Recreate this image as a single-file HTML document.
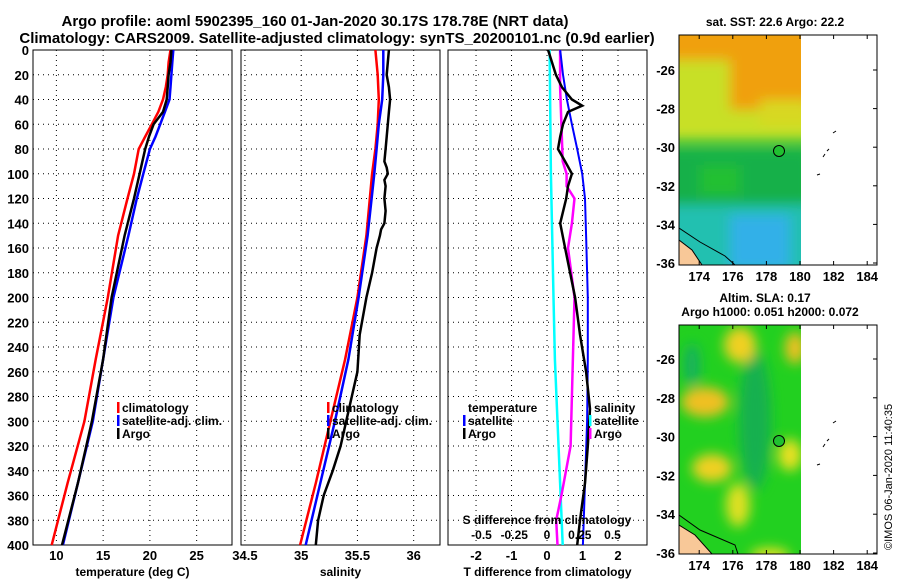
<!DOCTYPE html>
<html><head><meta charset="utf-8"><style>
body{margin:0;background:#fff;}
svg{display:block;font-family:"Liberation Sans",sans-serif;font-weight:bold;}
</style></head><body>
<svg id="chart" width="900" height="580" viewBox="0 0 900 580" xmlns="http://www.w3.org/2000/svg">
<defs>
<filter id="blur" x="-20%" y="-20%" width="140%" height="140%"><feGaussianBlur stdDeviation="6"/></filter>
<clipPath id="c1"><rect x="679" y="35" width="122" height="230"/></clipPath>
<clipPath id="c2"><rect x="679" y="325" width="122" height="229"/></clipPath>
</defs>
<text x="315" y="26" font-size="15" text-anchor="middle">Argo profile: aoml 5902395_160 01-Jan-2020 30.17S 178.78E (NRT data)</text>
<text x="337" y="43" font-size="15" text-anchor="middle">Climatology: CARS2009. Satellite-adjusted climatology: synTS_20200101.nc (0.9d earlier)</text>
<g id="plots"></g>
<g id="maps">
<text x="775" y="26" font-size="12" text-anchor="middle">sat. SST: 22.6 Argo: 22.2</text>
<g clip-path="url(#c1)">
<rect x="679" y="35" width="122" height="230" fill="#20c040"/>
<g filter="url(#blur)">
<rect x="660" y="50" width="160" height="90" fill="#c8e028"/>
<rect x="660" y="20" width="160" height="40" fill="#f0a010"/>
<rect x="730" y="20" width="90" height="90" fill="#f0a010"/>
<rect x="760" y="100" width="50" height="25" fill="#d8d820"/>
<rect x="660" y="150" width="150" height="60" fill="#18b048"/>
<rect x="700" y="165" width="40" height="30" fill="#22c030"/>
<rect x="660" y="205" width="160" height="70" fill="#20c0b0"/>
<rect x="730" y="215" width="60" height="55" fill="#30b0e8"/>
</g>
<path d="M679 240 L692 250 L702 265 L679 265Z" fill="#f8c898" stroke="#000" stroke-width="1"/>
<path d="M679 228 L700 242 L725 256 L735 265" fill="none" stroke="#000"/>
</g>
<rect x="679" y="35" width="198" height="230" fill="none" stroke="#000"/>
<circle cx="779" cy="151" r="5.5" fill="#20c030" stroke="#000"/>
<text x="765" y="302" font-size="12" text-anchor="middle">Altim. SLA: 0.17</text>
<text x="770" y="316" font-size="12" text-anchor="middle">Argo h1000: 0.051 h2000: 0.072</text>
<g clip-path="url(#c2)">
<rect x="679" y="325" width="122" height="229" fill="#22d020"/>
<g filter="url(#blur)">
<ellipse cx="755" cy="420" rx="16" ry="70" fill="#14b050"/>
<ellipse cx="692" cy="365" rx="8" ry="22" fill="#18b060"/>
<ellipse cx="740" cy="345" rx="16" ry="18" fill="#f0d020"/>
<ellipse cx="795" cy="348" rx="10" ry="16" fill="#f0c020"/>
<ellipse cx="705" cy="402" rx="24" ry="15" fill="#f0c020"/>
<ellipse cx="790" cy="455" rx="12" ry="16" fill="#e8e020"/>
<ellipse cx="712" cy="468" rx="20" ry="14" fill="#f0d020"/>
<ellipse cx="738" cy="505" rx="12" ry="22" fill="#e0e020"/>
<ellipse cx="770" cy="556" rx="20" ry="8" fill="#e8e020"/>
</g>
<path d="M679 525 L695 535 L712 554 L679 554Z" fill="#f8c898" stroke="#000"/>
<path d="M679 515 L700 530 L735 545 L738 554" fill="none" stroke="#000"/>
</g>
<rect x="679" y="325" width="198" height="229" fill="none" stroke="#000"/>
<circle cx="779" cy="441" r="5.5" fill="#20c030" stroke="#000"/>
<text transform="translate(892,550) rotate(-90)" font-size="11" font-weight="normal">©IMOS 06-Jan-2020 11:40:35</text>
</g>
</svg>
<script>
const depthTick=[0,20,40,60,80,100,120,140,160,180,200,220,240,260,280,300,320,340,360,380,400];
const tTicks=[10,15,20,25];
const sTicks=[34.5,35,35.5,36];
const dtTicks=[-2,-1,0,1,2];
const dsTicks=[-0.5,-0.25,0,0.25,0.5];
const tempDepth=[0,10,20,30,40,50,60,70,80,100,120,150,200,250,300,350,400];
const tempClim=[22.2,22.0,21.9,21.7,21.4,20.9,20.2,19.5,18.8,18.3,17.6,16.6,15.5,14.2,13.0,11.2,9.5];
const tempSat=[22.5,22.4,22.3,22.2,22.1,21.6,21.1,20.6,20.0,19.3,18.6,17.7,16.1,15.0,13.9,12.3,10.7];
const tempArgo=[22.3,22.2,22.0,21.9,21.8,21.4,20.4,19.9,19.5,18.9,18.3,17.3,15.9,15.0,13.8,12.3,10.6];
const salDepth=[0,20,40,60,80,100,150,200,250,300,350,400];
const salClim=[35.66,35.68,35.69,35.68,35.66,35.63,35.58,35.50,35.39,35.26,35.13,34.99];
const salSat=[35.73,35.73,35.72,35.69,35.67,35.65,35.59,35.51,35.42,35.30,35.17,35.04];
const salArgoDepth=[0,10,20,30,40,50,60,70,80,90,95,100,105,110,120,130,140,145,150,160,180,200,230,260,280,300,320,340,360,380,400];
const salArgo=[35.78,35.77,35.76,35.78,35.79,35.78,35.77,35.76,35.75,35.74,35.76,35.77,35.74,35.75,35.74,35.75,35.74,35.71,35.70,35.67,35.63,35.58,35.52,35.50,35.45,35.40,35.35,35.28,35.20,35.15,35.13];
const dtSatDepth=[0,20,40,60,80,100,120,150,200,250,300,350,400];
const dtSat=[0.37,0.45,0.56,0.70,0.85,0.99,1.07,1.10,1.15,1.15,1.13,1.07,1.01];
const dtArgoDepth=[0,10,20,30,40,45,50,60,70,80,90,100,110,120,140,160,180,200,230,260,290,320,350,380,400];
const dtArgo=[0.03,0.14,0.25,0.42,0.70,0.99,0.59,0.45,0.37,0.31,0.51,0.70,0.59,0.54,0.37,0.51,0.65,0.79,0.93,1.10,1.21,1.15,1.07,0.93,0.85];
const dsArgoDepth=[0,30,60,90,100,110,120,140,160,200,240,280,320,360,380,400];
const dsArgo=[0.10,0.10,0.11,0.12,0.15,0.15,0.21,0.19,0.16,0.21,0.20,0.19,0.18,0.11,0.07,0.08];
const dsSatDepth=[0,100,150,200,250,300,350,400];
const dsSat=[0.02,0.03,0.04,0.05,0.06,0.08,0.10,0.12];

const NS='http://www.w3.org/2000/svg';
const root=document.getElementById('plots');
const Y0=50,Y1=545;
const yS=d=>Y0+d*(Y1-Y0)/400;
function mk(tag,attrs,parent){const e=document.createElementNS(NS,tag);for(const k in attrs)e.setAttribute(k,attrs[k]);(parent||root).appendChild(e);return e;}
function txt(x,y,s,size,anchor,parent){const t=mk('text',{x:x,y:y,'font-size':size,'text-anchor':anchor||'middle'},parent);t.textContent=s;return t;}
function panel(name,x0,x1,xmin,xmax,xticks,xlabel,showY){
  const g=mk('g',{});
  
  
  const xs=v=>x0+(v-xmin)*(x1-x0)/(xmax-xmin);
  depthTick.forEach(d=>{if(d>0&&d<400){const l=mk('line',{x1:x0,x2:x1,y1:yS(d),y2:yS(d),stroke:'#000','stroke-dasharray':'1,4'},g);}
    if(showY){const t=txt(x0-4,yS(d)+5,String(d),13,'end',g);}});
  xticks.forEach(v=>{const l=mk('line',{x1:xs(v),x2:xs(v),y1:Y0,y2:Y1,stroke:'#000','stroke-dasharray':'1,4'},g);
    const t=txt(xs(v),Y1+15,String(v),13,'middle',g);});
  const r=mk('rect',{x:x0,y:Y0,width:x1-x0,height:Y1-Y0,fill:'none',stroke:'#000'},g);
  
  const t=txt((x0+x1)/2,Y1+31,xlabel,12,'middle',g);
  
  return {g,xs};
}
function line(p,xs,depths,vals,color,name,w){
  const pts=vals.map((v,i)=>xs(v).toFixed(1)+','+yS(depths[i]).toFixed(1)).join(' ');
  const l=mk('polyline',{points:pts,fill:'none',stroke:color,'stroke-width':w||2.5},p.g);
  
  
}
function legend(p,x,y,items){items.forEach((it,i)=>{
  if(it[1]){const m=mk('rect',{x:x,y:y+i*13-10,width:2.5,height:11,fill:it[1]},p.g);}
  const t=txt(x+5,y+i*13,it[0],12,'start',p.g);});}

const p1=panel('temperature-panel',33,232,7.5,28.78,tTicks,'temperature (deg C)',true);
line(p1,p1.xs,tempDepth,tempClim,'#f00','temp-climatology-line');
line(p1,p1.xs,tempDepth,tempSat,'#00f','temp-satellite-line');
line(p1,p1.xs,tempDepth,tempArgo,'#000','temp-argo-line');
legend(p1,117,412,[['climatology','#f00'],['satellite-adj. clim.','#00f'],['Argo','#000']]);

const p2=panel('salinity-panel',241,440,34.465,36.234,sTicks,'salinity',false);
line(p2,p2.xs,salDepth,salClim,'#f00','sal-climatology-line');
line(p2,p2.xs,salDepth,salSat,'#00f','sal-satellite-line');
line(p2,p2.xs,salArgoDepth,salArgo,'#000','sal-argo-line');
legend(p2,327,412,[['climatology','#f00'],['satellite-adj. clim.','#00f'],['Argo','#000']]);

const p3=panel('difference-panel',448,647,-2.79,2.817,dtTicks,'T difference from climatology',false);
const xsS=v=>547+v*131;
line(p3,xsS,dsSatDepth,dsSat,'#0ff','sal-diff-satellite-line');
line(p3,xsS,dsArgoDepth,dsArgo,'#f0f','sal-diff-argo-line');
line(p3,p3.xs,dtSatDepth,dtSat,'#00f','temp-diff-satellite-line',2);
line(p3,p3.xs,dtArgoDepth,dtArgo,'#000','temp-diff-argo-line');
legend(p3,463,412,[['temperature',null],['satellite','#00f'],['Argo','#000']]);
legend(p3,589,412,[['salinity',null],['satellite','#0ff'],['Argo','#f0f']]);
const st=txt(547,524,'S difference from climatology',12,'middle',p3.g);

dsTicks.forEach(v=>{const t=txt(xsS(v),539,String(v),12,'middle',p3.g);});

const mapsG=document.getElementById('maps');
const lonTicks=[174,176,178,180,182,184];
const latTicks=[-26,-28,-30,-32,-34,-36];
const lonX=v=>800+(v-180)*16.8;
[[35,265,70,263],[325,554,359,553]].forEach((m,mi)=>{
  const latY=v=>m[2]+(-26-v)*(m[3]-m[2])/10;
  lonTicks.forEach(v=>{mk('line',{x1:lonX(v),x2:lonX(v),y1:m[1],y2:m[1]-4,stroke:'#000'},mapsG);mk('line',{x1:lonX(v),x2:lonX(v),y1:m[0],y2:m[0]+4,stroke:'#000'},mapsG);
    const t=txt(lonX(v),m[1]+16,String(v),13,'middle',mapsG);});
  latTicks.forEach(v=>{mk('line',{x1:873,x2:877,y1:latY(v),y2:latY(v),stroke:'#000'},mapsG);
    const t=txt(675,latY(v)+5,String(v),13,'end',mapsG);});
  const off=mi?290:0;
  mk('path',{d:`M817 ${175+off} l3 -1 M823 ${157+off} l2 -3 M827 ${151+off} l2 -2 M833 ${133+off} l3 -2`,stroke:'#000',fill:'none'},mapsG);
});
</script>
</body></html>
